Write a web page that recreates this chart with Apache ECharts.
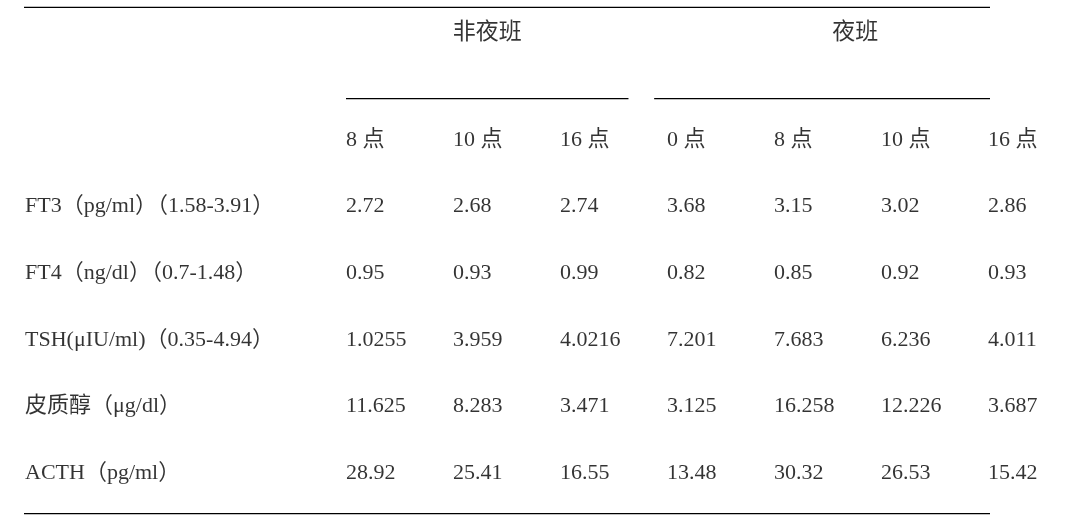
<!DOCTYPE html>
<html><head><meta charset="utf-8">
<script src="https://cdn.jsdelivr.net/npm/echarts@6/dist/echarts.min.js"></script>
<style>html,body{margin:0;background:#fff}#c{width:1080px;height:519px}</style>
</head><body><div id="c"></div>
<script>
const groupHeaders = ['非夜班', '夜班'];
const timeHeaders = ['8 点', '10 点', '16 点', '0 点', '8 点', '10 点', '16 点'];
const rowLabels = ['FT3（pg/ml）（1.58-3.91）', 'FT4（ng/dl）（0.7-1.48）', 'TSH(μIU/ml)（0.35-4.94）', '皮质醇（μg/dl）', 'ACTH（pg/ml）'];
const ft3 = ['2.72', '2.68', '2.74', '3.68', '3.15', '3.02', '2.86'];
const ft4 = ['0.95', '0.93', '0.99', '0.82', '0.85', '0.92', '0.93'];
const tsh = ['1.0255', '3.959', '4.0216', '7.201', '7.683', '6.236', '4.011'];
const cortisol = ['11.625', '8.283', '3.471', '3.125', '16.258', '12.226', '3.687'];
const acth = ['28.92', '25.41', '16.55', '13.48', '30.32', '26.53', '15.42'];
const rows = [ft3, ft4, tsh, cortisol, acth];

const font = '"Liberation Serif","Noto Sans CJK SC",serif';
const cells = [];
timeHeaders.forEach((t, i) => cells.push({ value: [3 + i, 0], label: t }));
rowLabels.forEach((l, r) => {
  cells.push({ value: [0, r + 1], label: l });
  rows[r].forEach((v, i) => cells.push({ value: [3 + i, r + 1], label: v }));
});
const heads = [
  { value: [4.32, -1.6], label: groupHeaders[0] },
  { value: [7.76, -1.6], label: groupHeaders[1] }
];
const rules = [
  [[-0.24, -1.99], [9.87, -1.99]],
  [[3, -0.62], [5.64, -0.62]],
  [[5.88, -0.62], [9.64, -0.62]],
  [[-0.24, 5.61], [9.87, 5.61]]
];
const chart = echarts.init(document.getElementById('c'));
chart.setOption({
  animation: false,
  grid: { left: 25, right: 92, top: 140, bottom: 519 - 140 - 5 * 66.6 },
  xAxis: { type: 'value', min: 0, max: 9, show: false },
  yAxis: { type: 'value', min: 0, max: 5, inverse: true, show: false },
  series: [
    {
      type: 'scatter', symbolSize: 0, clip: false, data: cells.map(c => ({ value: c.value, name: c.label })),
      label: { show: true, position: 'inside', align: 'left', verticalAlign: 'middle', formatter: p => p.name,
        fontFamily: font, fontSize: 22, color: '#000' }
    },
    {
      type: 'scatter', symbolSize: 0, clip: false, data: heads.map(c => ({ value: c.value, name: c.label })),
      label: { show: true, position: 'inside', align: 'center', verticalAlign: 'middle', formatter: p => p.name,
        fontFamily: font, fontSize: 23, color: '#000' }
    },
    ...rules.map(r => ({
      type: 'line', clip: false, showSymbol: false, symbol: 'none', silent: true, data: r,
      lineStyle: { color: '#000', width: 1.3 }
    }))
  ]
});
</script></body></html>
